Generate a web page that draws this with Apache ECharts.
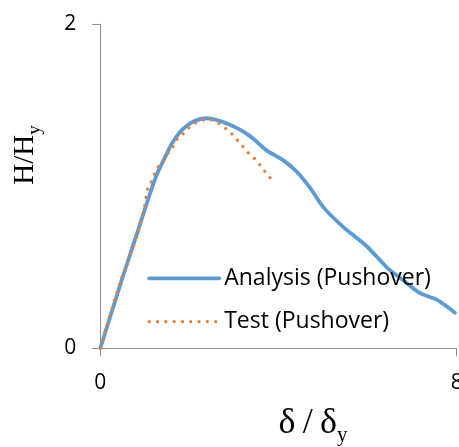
<!DOCTYPE html>
<html>
<head>
<meta charset="utf-8">
<script src="https://cdn.jsdelivr.net/npm/echarts@6/dist/echarts.min.js"></script>
<style>
  html, body { margin: 0; padding: 0; background: #fff; }
  #chart { width: 459px; height: 447px; }
</style>
</head>
<body>
<div id="chart"></div>
<script>
// Normalised pushover curves: drift ratio δ/δy vs. load ratio H/Hy
const analysisX = [0, 0.48, 0.85, 0.99, 1.25, 1.49, 1.62, 1.84, 2.09, 2.39, 2.91, 3.36, 3.74, 4.11, 4.41, 4.71, 5.01, 5.45, 5.98, 6.43, 6.80, 7.18, 7.55, 7.96];
const analysisY = [0, 0.42, 0.73, 0.85, 1.06, 1.20, 1.27, 1.35, 1.40, 1.42, 1.38, 1.31, 1.22, 1.16, 1.09, 0.99, 0.87, 0.75, 0.63, 0.50, 0.42, 0.34, 0.30, 0.22];

const testX = [0, 0.46, 0.82, 0.99, 1.06, 1.13, 1.21, 1.30, 1.41, 1.51, 1.62, 1.72, 1.84, 1.98, 2.13, 2.30, 2.48, 2.65, 2.80, 2.93, 3.06, 3.19, 3.31, 3.43, 3.56, 3.67, 3.79, 3.92];
const testY = [0, 0.42, 0.69, 0.87, 0.98, 1.02, 1.07, 1.12, 1.16, 1.20, 1.24, 1.29, 1.32, 1.36, 1.39, 1.41, 1.41, 1.39, 1.36, 1.33, 1.29, 1.25, 1.21, 1.18, 1.14, 1.10, 1.06, 1.02];

const seriesNames = ['Analysis (Pushover)', 'Test (Pushover)'];
const xRange = [0, 8];
const yRange = [0, 2];

const pairs = (xs, ys) => xs.map((x, i) => [x, ys[i]]);

const axisGrey = '#8f8f8f';
const sans = '"Open Sans", "Noto Sans", sans-serif';
const serif = '"Liberation Serif", "DejaVu Serif", serif';

const chart = echarts.init(document.getElementById('chart'), null, { renderer: 'canvas' });

chart.setOption({
  animation: false,
  backgroundColor: '#ffffff',
  grid: {
    left: 100.3, right: 2.3, top: 24.3, bottom: 98.7,
    containLabel: false,
    outerBoundsMode: 'none'
  },
  xAxis: {
    type: 'value',
    min: xRange[0], max: xRange[1], interval: xRange[1] - xRange[0],
    axisLine: { show: true, lineStyle: { color: axisGrey, width: 1 } },
    axisTick: { show: true, inside: false, length: 8, lineStyle: { color: axisGrey, width: 1 } },
    axisLabel: { color: '#000', fontFamily: sans, fontSize: 21, margin: 24, showMaxLabel: true, showMinLabel: true },
    splitLine: { show: false }
  },
  yAxis: {
    type: 'value',
    min: yRange[0], max: yRange[1], interval: yRange[1] - yRange[0],
    axisLine: { show: true, lineStyle: { color: axisGrey, width: 1 } },
    axisTick: { show: true, inside: false, length: 8, lineStyle: { color: axisGrey, width: 1 } },
    axisLabel: { color: '#000', fontFamily: sans, fontSize: 21, margin: 24 },
    splitLine: { show: false }
  },
  legend: {
    orient: 'vertical',
    left: 147.3,
    top: 266.3,
    padding: 0,
    itemWidth: 70,
    itemHeight: 24,
    itemGap: 19.4,
    textStyle: { color: '#000', fontFamily: sans, fontSize: 23, lineHeight: 24 },
    // line-only keys: the marker dot is made invisible
    itemStyle: { opacity: 0, borderWidth: 0 },
    lineStyle: { width: 'inherit', type: 'inherit', cap: 'inherit', opacity: 1 },
    data: seriesNames
  },
  series: [
    {
      name: seriesNames[0],
      type: 'line',
      data: pairs(analysisX, analysisY),
      smooth: 0.3,
      symbol: 'none',
      lineStyle: { color: '#5b9bd5', width: 3.8, cap: 'round' },
      itemStyle: { color: '#5b9bd5' },
      z: 2
    },
    {
      name: seriesNames[1],
      type: 'line',
      data: pairs(testX, testY),
      smooth: 0.3,
      symbol: 'none',
      lineStyle: { color: '#ed7d31', width: 3.2, type: [0.01, 8.3], cap: 'round' },
      itemStyle: { color: '#ed7d31' },
      z: 3
    }
  ],
  graphic: [
    {
      type: 'text',
      x: 26, y: 155,
      rotation: Math.PI / 2,
      style: {
        text: '{m|H/H}{s|y}',
        textAlign: 'center',
        textVerticalAlign: 'middle',
        fill: '#000',
        rich: {
          m: { fontFamily: serif, fontSize: 29, lineHeight: 30, verticalAlign: 'top' },
          s: { fontFamily: serif, fontSize: 19, lineHeight: 19, verticalAlign: 'top', padding: [15, 0, 0, 0] }
        }
      }
    },
    {
      type: 'text',
      x: 313, y: 425,
      style: {
        text: '{m|δ\u2009/\u2009δ}{s|y}',
        textAlign: 'center',
        textVerticalAlign: 'middle',
        fill: '#000',
        rich: {
          m: { fontFamily: serif, fontSize: 36, lineHeight: 38, verticalAlign: 'top' },
          s: { fontFamily: serif, fontSize: 21, lineHeight: 21, verticalAlign: 'top', padding: [19, 0, 0, 0] }
        }
      }
    }
  ]
});
</script>
</body>
</html>
